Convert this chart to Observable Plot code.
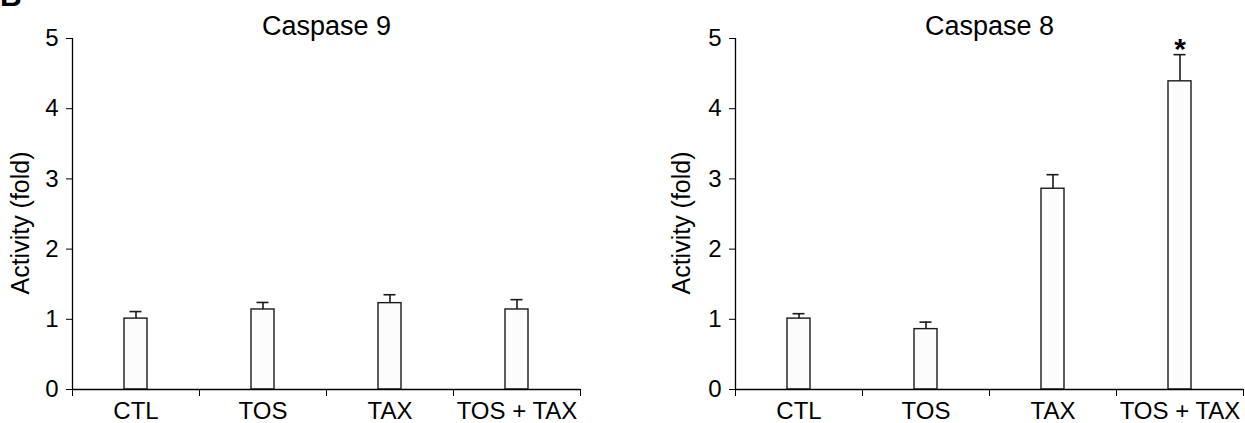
<!DOCTYPE html>
<html>
<head>
<meta charset="utf-8">
<script src="https://cdn.jsdelivr.net/npm/d3@7"></script>
<script src="https://cdn.jsdelivr.net/npm/@observablehq/plot@0.6"></script>
<style>
  html, body { margin: 0; padding: 0; background: #fff; }
  body { width: 1245px; height: 423px; overflow: hidden; position: relative; font-family: "Liberation Sans", Arial, sans-serif; }
  #row { display: flex; flex-direction: row; }
  #letter { position: absolute; left: 0; top: -21px; font: bold 30px "Liberation Sans", Arial, sans-serif; color: #000; z-index: 2; }
</style>
</head>
<body>
<div id="letter">B</div>
<div id="row"></div>
<script>
const categories = ["CTL", "TOS", "TAX", "TOS + TAX"];
const yTicks = [0, 1, 2, 3, 4, 5];
const yLabel = "Activity (fold)";

const casp9Title = "Caspase 9";
const casp9Mean = [1.01, 1.14, 1.23, 1.14];
const casp9Err = [0.10, 0.10, 0.12, 0.14];
const casp9Sig = ["", "", "", ""];

const casp8Title = "Caspase 8";
const casp8Mean = [1.01, 0.86, 2.86, 4.39];
const casp8Err = [0.07, 0.10, 0.20, 0.38];
const casp8Sig = ["", "", "", "*"];

function panel(title, means, errs, sigs, width, marginLeft, marginRight, labelDx) {
  const data = categories.map((c, i) => ({
    cat: c, i, mean: means[i], err: errs[i], hi: means[i] + errs[i], sig: sigs[i]
  }));
  const bandPx = (width - marginLeft - marginRight) / categories.length;
  const barInset = (bandPx - 23) / 2;
  const capInset = (bandPx - 12) / 2;
  return Plot.plot({
    width, height: 423,
    marginLeft, marginRight, marginTop: 38, marginBottom: 34,
    style: { fontFamily: "'Liberation Sans', Arial, sans-serif", fontSize: "24px", color: "#000", background: "#fff", overflow: "visible" },
    x: { type: "linear", domain: [0, categories.length], axis: null },
    y: { domain: [0, 5], axis: null },
    marks: [
      Plot.rectY(data, { x1: d => d.i, x2: d => d.i + 1, y1: 0, y2: "mean", insetLeft: barInset, insetRight: barInset, fill: "#fcfcfc", stroke: "#1a1a1a", strokeWidth: 1.4 }),
      Plot.ruleX(data, { x: d => d.i + 0.5, y1: "mean", y2: "hi", stroke: "#1a1a1a", strokeWidth: 1.6 }),
      Plot.ruleY(data, { x1: d => d.i, x2: d => d.i + 1, y: "hi", insetLeft: capInset, insetRight: capInset, stroke: "#1a1a1a", strokeWidth: 1.6 }),
      Plot.text(data.filter(d => d.sig), { x: d => d.i + 0.5, y: "hi", text: "sig", lineAnchor: "bottom", dy: 4, fontSize: 30, fontWeight: "bold", fill: "#000" }),
      Plot.ruleY([0], { stroke: "#000", strokeWidth: 1.3 }),
      Plot.ruleX([0], { stroke: "#000", strokeWidth: 1.3 }),
      Plot.axisY({ ticks: yTicks, tickSize: 6, tickPadding: 8, tickFormat: d3.format("d"), label: null, fontSize: 24 }),
      Plot.axisX({ ticks: d3.range(categories.length + 1), tickSize: 7, tickFormat: () => "", label: null }),
      Plot.axisX({ ticks: categories.map((c, i) => i + 0.5), tickSize: 0, tickPadding: 12, tickFormat: (d) => categories[Math.floor(d)], label: null, fontSize: 24 }),
      Plot.text([title], { frameAnchor: "top", lineAnchor: "bottom", dy: -4, fontSize: 27, fill: "#000" }),
      Plot.text([yLabel], { frameAnchor: "left", textAnchor: "middle", lineAnchor: "middle", rotate: -90, dx: labelDx, dy: 9, fontSize: 25, fill: "#000" })
    ]
  });
}

const row = document.getElementById("row");
row.appendChild(panel(casp9Title, casp9Mean, casp9Err, casp9Sig, 622, 72, 42, -52));
row.appendChild(panel(casp8Title, casp8Mean, casp8Err, casp8Sig, 623, 113, 2, -54));
</script>
</body>
</html>
